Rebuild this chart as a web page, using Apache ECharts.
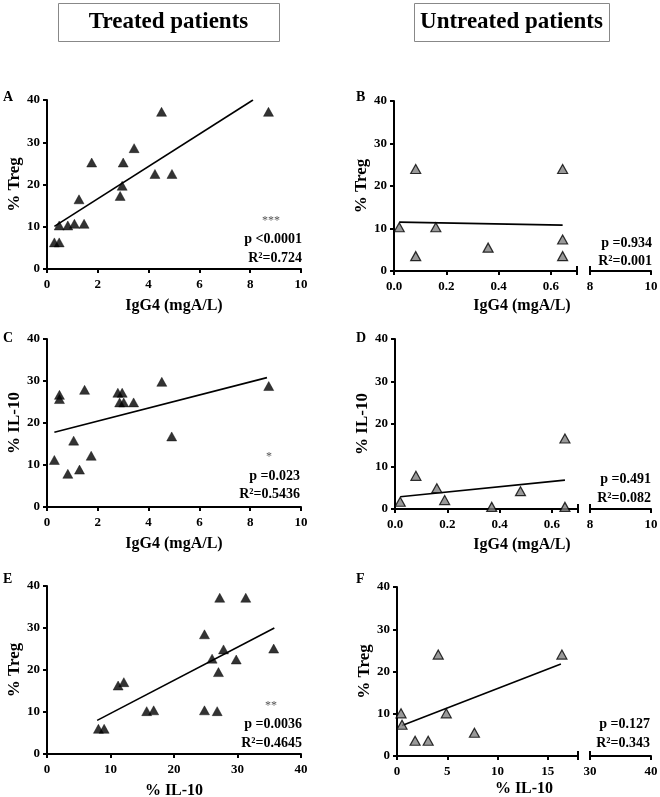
<!DOCTYPE html>
<html>
<head>
<meta charset="utf-8">
<script src="https://cdn.jsdelivr.net/npm/echarts@6/dist/echarts.min.js"></script>
<style>
html,body{margin:0;padding:0;background:#fff;}
#chart{width:660px;height:797px;}
</style>
</head>
<body>
<div id="chart"></div>
<script>
// ---------- Data ----------
// Panel A: treated, IgG4 vs % Treg
const igg4A = [0.29,0.48,0.48,0.82,1.08,1.46,1.26,1.76,2.88,2.96,3.0,3.43,4.25,4.51,4.92,8.72];
const tregA = [6.3,6.3,10.3,10.3,10.7,10.7,16.5,25.2,17.3,19.7,25.2,28.6,22.5,37.2,22.5,37.2];
const fitA  = [[0.29,10.1],[8.11,40]];
// Panel B: untreated, IgG4 vs % Treg
const igg4B = [0.02,0.083,0.083,0.16,0.36,0.645,0.645,0.645];
const tregB = [10.3,24.0,3.5,10.3,5.5,24.0,7.4,3.5];
const fitB  = [[0.02,11.5],[0.645,10.8]];
// Panel C: treated, IgG4 vs % IL-10
const igg4C = [0.29,0.49,0.49,0.82,1.05,1.28,1.48,1.74,2.79,2.86,2.96,3.02,3.41,4.52,4.91,8.73];
const il10C = [11.2,26.7,25.7,7.9,15.8,8.9,27.9,12.2,27.2,24.9,27.2,24.9,24.9,29.8,16.8,28.8];
const fitC  = [[0.29,17.8],[8.66,30.8]];
// Panel D: untreated, IgG4 vs % IL-10
const igg4D = [0.02,0.08,0.16,0.19,0.37,0.48,0.65,0.65];
const il10D = [1.7,7.8,4.9,2.1,0.5,4.2,16.6,0.5];
const fitD  = [[0.02,2.9],[0.65,6.8]];
// Panel E: treated, % IL-10 vs % Treg
const il10E = [8.1,9.0,11.2,12.1,15.7,16.8,24.8,24.8,26.0,26.8,27.0,27.2,27.8,29.8,31.3,35.7];
const tregE = [6.0,6.0,16.3,17.1,10.2,10.4,28.5,10.4,22.7,10.2,19.5,37.2,24.9,22.5,37.2,25.1];
const fitE  = [[7.9,8.0],[35.8,30.0]];
// Panel F: untreated, % IL-10 vs % Treg
const il10F = [0.4,0.5,1.8,3.1,4.1,4.9,7.7,16.4];
const tregF = [10.1,7.4,3.6,3.6,24.0,10.1,5.5,24.0];
const fitF  = [[0.5,7.2],[16.3,21.8]];

// Tick labels
const yTicks = [0,10,20,30,40];
const xTicksIgG4Treated = [0,2,4,6,8,10];
const xTicksIgG4UntrLow = [0,0.2,0.4,0.6];
const xTicksIgG4UntrHigh = [8,10];
const xTicksIL10Treated = [0,10,20,30,40];
const xTicksIL10UntrLow = [0,5,10,15];
const xTicksIL10UntrHigh = [30,40];

// Statistics text
const statsA = {stars:'***', p:'p <0.0001', r2:'0.724'};
const statsB = {stars:'',    p:'p =0.934',  r2:'0.001'};
const statsC = {stars:'*',   p:'p =0.023',  r2:'0.5436'};
const statsD = {stars:'',    p:'p =0.491',  r2:'0.082'};
const statsE = {stars:'**',  p:'p =0.0036', r2:'0.4645'};
const statsF = {stars:'',    p:'p =0.127',  r2:'0.343'};

// ---------- Styles ----------
const FONT = '"Liberation Serif","Times New Roman",serif';
const zip = (xs, ys) => xs.map((x,i)=>[x, ys[i]]);

const chart = echarts.init(document.getElementById('chart'), null, {renderer:'canvas'});

const grids = [];
const xAxes = [];
const yAxes = [];
const series = [];

function lab(fmt){
  return {fontFamily:FONT, fontWeight:'bold', fontSize:13, color:'#000', margin:8, formatter: fmt};
}
const axisLine = {show:true, onZero:false, lineStyle:{color:'#000', width:2}};
const tick = {show:true, length:4, lineStyle:{color:'#000', width:2}};

function addGrid(g){
  grids.push(Object.assign({outerBoundsMode:'none', containLabel:false}, g));
  return grids.length - 1;
}

function addY(gi, name, show){
  yAxes.push({
    gridIndex: gi, type:'value', min:0, max:40, interval:10, show: show, position:'left',
    name: name, nameLocation:'middle', nameGap:23,
    nameTextStyle:{fontFamily:FONT, fontWeight:'bold', fontSize:17, color:'#000'},
    axisLine: axisLine, axisTick: tick, splitLine:{show:false},
    axisLabel: Object.assign(lab(), {margin:7, customValues: yTicks}),
  });
  return yAxes.length - 1;
}

function addX(gi, min, max, ticksLabel, ticksAll, name, fmt){
  xAxes.push({
    gridIndex: gi, type:'value', min:min, max:max, position:'bottom',
    name: name || '', nameLocation:'middle', nameGap:29,
    nameTextStyle:{fontFamily:FONT, fontWeight:'bold', fontSize:16, color:'#000'},
    axisLine: axisLine, axisTick: Object.assign({}, tick, {customValues: ticksAll}),
    splitLine:{show:false},
    axisLabel: Object.assign(lab(fmt), {margin:9, customValues: ticksLabel}),
  });
  return xAxes.length - 1;
}

// break mark: inside tick at a break end (drawn on the bottom edge)
function addBreakX(gi, min, max, at){
  xAxes.push({
    gridIndex: gi, type:'value', min:min, max:max, position:'bottom',
    axisLine:{show:false}, axisLabel:{show:false}, splitLine:{show:false},
    axisTick:{show:true, inside:true, length:5, lineStyle:{color:'#000', width:2}, customValues:[at]},
  });
}

function addScatter(xi, yi, xs, ys, untreated){
  series.push({
    type:'scatter', xAxisIndex:xi, yAxisIndex:yi, data: zip(xs, ys),
    symbol:'triangle', symbolSize:[10,9],
    itemStyle: untreated ? {color:'#808080', borderColor:'#000', borderWidth:1.2}
                         : {color:'#000', borderColor:'#000', borderWidth:0.5},
    z:3,
  });
}
function addFit(xi, yi, pts){
  series.push({
    type:'line', xAxisIndex:xi, yAxisIndex:yi, data: pts,
    symbol:'none', lineStyle:{color:'#000', width:1.6}, z:2, silent:true,
  });
}

// ---- Left (treated) panels
function leftPanel(top, h, xMax, xTicks, xName, yName, xs, ys, fit){
  const gi = addGrid({left:47, top:top, width:254, height:h});
  const xi = addX(gi, 0, xMax, xTicks, xTicks, xName);
  const yi = addY(gi, yName, true);
  addScatter(xi, yi, xs, ys, false);
  addFit(xi, yi, fit);
}
// ---- Right (untreated) panels with broken x axis
function rightPanel(top, h, left, w1, lowMax, lowTicks, highTicks, yName, xs, ys, fit, fmt){
  const g1 = addGrid({left:left, top:top, width:w1, height:h});
  const x1 = addX(g1, 0, lowMax, lowTicks, lowTicks.concat([lowMax]), '', fmt);
  addBreakX(g1, 0, lowMax, lowMax);
  const y1 = addY(g1, yName, true);
  const g2 = addGrid({left:590, top:top, width:61, height:h});
  addX(g2, highTicks[0], highTicks[highTicks.length-1], highTicks, highTicks, '');
  addBreakX(g2, highTicks[0], highTicks[highTicks.length-1], highTicks[0]);
  addY(g2, '', false);
  addScatter(x1, y1, xs, ys, true);
  addFit(x1, y1, fit);
}

const f1 = v => v.toFixed(1);

leftPanel(100, 169, 10, xTicksIgG4Treated, 'IgG4 (mgA/L)', '% Treg', igg4A, tregA, fitA);
rightPanel(101, 170, 394, 183, 0.7, xTicksIgG4UntrLow, xTicksIgG4UntrHigh, '% Treg', igg4B, tregB, fitB, f1);
leftPanel(339, 168, 10, xTicksIgG4Treated, 'IgG4 (mgA/L)', '% IL-10', igg4C, il10C, fitC);
rightPanel(339, 170, 395, 183, 0.7, xTicksIgG4UntrLow, xTicksIgG4UntrHigh, '% IL-10', igg4D, il10D, fitD, f1);
leftPanel(586, 168, 40, xTicksIL10Treated, '% IL-10', '% Treg', il10E, tregE, fitE);
rightPanel(587, 169, 397, 181, 18, xTicksIL10UntrLow, xTicksIL10UntrHigh, '% Treg', il10F, tregF, fitF);

// ---------- Graphic texts ----------
const graphics = [];
function txt(x, y, text, size, align, extra){
  graphics.push({type:'text', x:x, y:y, z:10, style:Object.assign({
    text:text, fontFamily:FONT, fontWeight:'bold', fontSize:size, fill:'#000',
    textAlign:align||'left', textVerticalAlign:'middle'}, extra||{})});
}
// headers
graphics.push({type:'rect', shape:{x:58.5, y:3.5, width:221, height:38}, style:{fill:'#fff', stroke:'#888', lineWidth:1}});
graphics.push({type:'rect', shape:{x:414.5, y:3.5, width:195, height:38}, style:{fill:'#fff', stroke:'#888', lineWidth:1}});
txt(168.5, 22, 'Treated patients', 23, 'center');
txt(511.5, 22, 'Untreated patients', 23, 'center');
// panel letters
txt(3, 97, 'A', 14); txt(356, 97, 'B', 14);
txt(3, 338, 'C', 14); txt(356, 338, 'D', 14);
txt(3, 579, 'E', 14); txt(356, 579, 'F', 14);
// right panel x titles (span the broken axis)
txt(522, 306, 'IgG4 (mgA/L)', 16, 'center');
txt(522, 545, 'IgG4 (mgA/L)', 16, 'center');
txt(524, 789, '% IL-10', 16, 'center');

function stats(right, yStar, yP, yR, s){
  if (s.stars) txt(right - 31, yStar, s.stars, 12, 'center', {fill:'#555', fontWeight:'normal'});
  txt(right, yP, s.p, 14, 'right');
  txt(right, yR, 'R\u00B2=' + s.r2, 14, 'right');
}
stats(302, 221, 239, 258, statsA);
stats(652, 0, 243, 261, statsB);
stats(300, 457, 476, 494, statsC);
stats(651, 0, 479, 498, statsD);
stats(302, 706, 724, 743, statsE);
stats(650, 0, 724, 743, statsF);

chart.setOption({
  animation:false,
  backgroundColor:'#fff',
  grid: grids,
  xAxis: xAxes,
  yAxis: yAxes,
  series: series,
  graphic: graphics,
});
</script>
</body>
</html>
